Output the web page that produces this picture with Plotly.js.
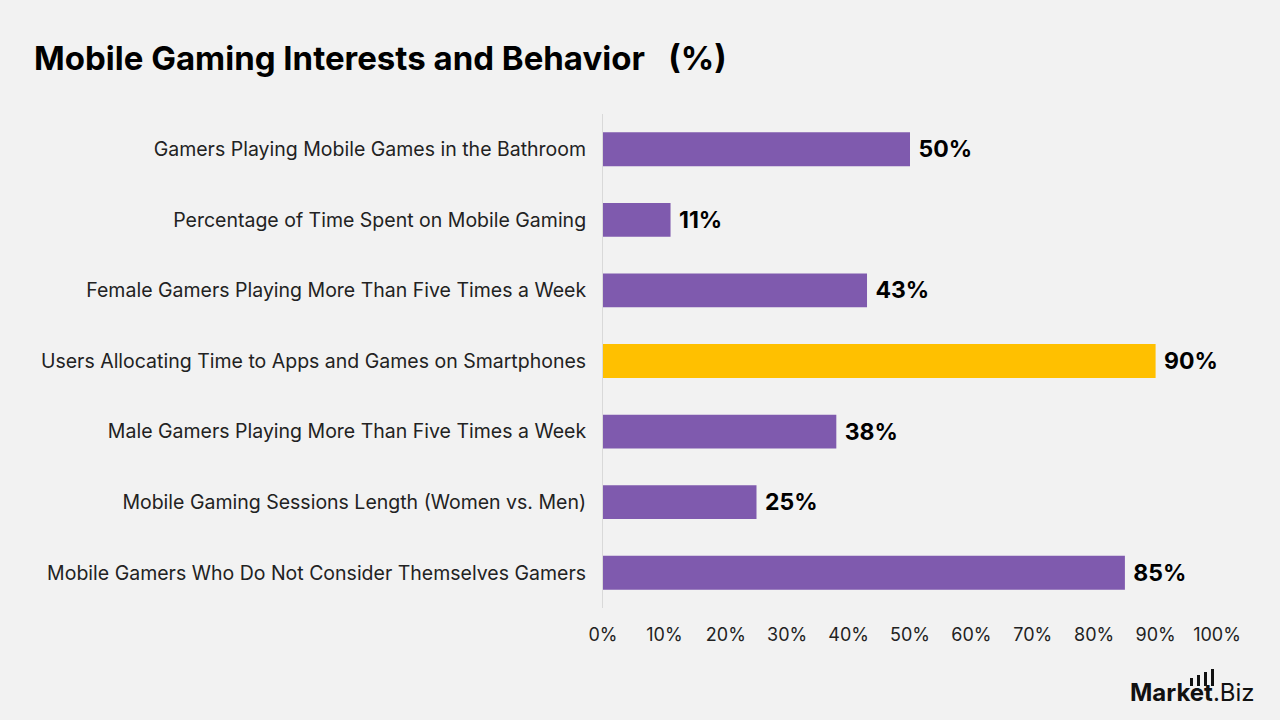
<!DOCTYPE html>
<html>
<head>
<meta charset="utf-8">
<script src="https://cdn.plot.ly/plotly-3.0.1.min.js"></script>
<style>html,body{margin:0;padding:0;background:#f2f2f2;}#chart{width:1280px;height:720px;}</style>
</head>
<body>
<div id="chart"></div>
<script>
const categories = [
  "Gamers Playing Mobile Games in the Bathroom",
  "Percentage of Time Spent on Mobile Gaming",
  "Female Gamers Playing More Than Five Times a Week",
  "Users Allocating Time to Apps and Games on Smartphones",
  "Male Gamers Playing More Than Five Times a Week",
  "Mobile Gaming Sessions Length (Women vs. Men)",
  "Mobile Gamers Who Do Not Consider Themselves Gamers"
];
const values = [50, 11, 43, 90, 38, 25, 85];
const highlight = "Users Allocating Time to Apps and Games on Smartphones";
const tickVals = [0,10,20,30,40,50,60,70,80,90,100];
const tickText = ["0%","10%","20%","30%","40%","50%","60%","70%","80%","90%","100%"];

const colors = categories.map(c => c === highlight ? "#ffc000" : "#7f5aae");
const FONT = "Inter, 'Open Sans', sans-serif";

const trace = {
  type: "bar",
  orientation: "h",
  y: categories,
  x: values,
  marker: {color: colors},
  width: 0.48,
  text: values.map(v => "\u00a0" + v + "%"),
  textposition: "outside",
  textfont: {family: FONT, size: 23, color: "#000", weight: 700},
  cliponaxis: false,
  hoverinfo: "skip"
};

const layout = {
  width: 1280, height: 720,
  paper_bgcolor: "#f2f2f2",
  plot_bgcolor: "#f2f2f2",
  margin: {l: 603, r: 63, t: 114, b: 112},
  showlegend: false,
  title: {
    text: "<b>Mobile Gaming Interests and Behavior&nbsp;&nbsp;&nbsp;(%)</b>",
    x: 34/1280, xanchor: "left", xref: "container",
    y: 1 - 58/720, yanchor: "middle", yref: "container",
    font: {family: FONT, size: 33, color: "#000"}
  },
  xaxis: {
    range: [0, 100],
    tickvals: tickVals, ticktext: tickText,
    showgrid: false, zeroline: false, showline: false,
    ticks: "", ticklabelstandoff: 14,
    tickfont: {family: FONT, size: 18, color: "#222"},
    fixedrange: true
  },
  yaxis: {
    autorange: "reversed",
    showgrid: false, zeroline: false,
    showline: true, linecolor: "#d9d9d9", linewidth: 1,
    ticks: "", ticklabelstandoff: 12,
    tickfont: {family: FONT, size: 19.5, color: "#222"},
    fixedrange: true
  },
  annotations: [
    {
      xref: "paper", yref: "paper",
      x: (1257 - 603)/614, y: -(692 - 608)/494,
      xanchor: "right", yanchor: "middle",
      text: "<b>Market</b>.Biz",
      showarrow: false,
      font: {family: FONT, size: 24, color: "#111"}
    }
  ],
  shapes: [
    {type:"rect", xref:"paper", yref:"paper", x0:(1190-603)/614, x1:(1193-603)/614, y0:-(686-608)/494, y1:-(678-608)/494, fillcolor:"#111", line:{width:0}},
    {type:"rect", xref:"paper", yref:"paper", x0:(1197-603)/614, x1:(1200-603)/614, y0:-(686-608)/494, y1:-(675-608)/494, fillcolor:"#111", line:{width:0}},
    {type:"rect", xref:"paper", yref:"paper", x0:(1204-603)/614, x1:(1207-603)/614, y0:-(686-608)/494, y1:-(672-608)/494, fillcolor:"#111", line:{width:0}},
    {type:"rect", xref:"paper", yref:"paper", x0:(1211-603)/614, x1:(1214-603)/614, y0:-(686-608)/494, y1:-(669-608)/494, fillcolor:"#111", line:{width:0}}
  ]
};

Plotly.newPlot("chart", [trace], layout, {displayModeBar: false, staticPlot: true});
</script>
</body>
</html>
